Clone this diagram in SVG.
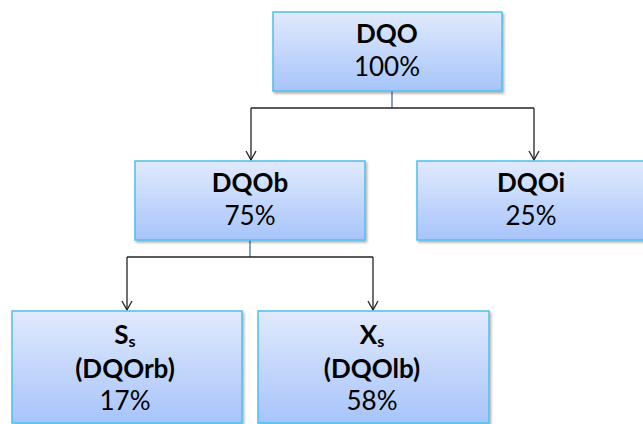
<svg xmlns="http://www.w3.org/2000/svg" width="643" height="424" viewBox="0 0 643 424">
<style>
.box{fill:url(#g);stroke:#4cc0ee;stroke-width:1.5;filter:url(#sh)}
.t{font-family:Lato,"Liberation Sans",sans-serif;font-size:26px;fill:#000;text-anchor:middle}
.b{font-weight:bold}
.c{fill:none;stroke:#222;stroke-width:1.3}
.stub{fill:none;stroke:#4a6c9b;stroke-width:1.3}
</style>
<defs>
<linearGradient id="g" x1="0" y1="0" x2="0" y2="1">
<stop offset="0" stop-color="#e1eafd"/>
<stop offset="1" stop-color="#a7c4fa"/>
</linearGradient>
<filter id="sh" x="-5%" y="-5%" width="112%" height="115%">
<feDropShadow dx="1.5" dy="2" stdDeviation="1.2" flood-color="#000" flood-opacity="0.3"/>
</filter>
<marker id="a" viewBox="0 0 12 12" refX="11" refY="6" markerWidth="12" markerHeight="12" markerUnits="userSpaceOnUse" orient="auto">
<path d="M2,1 L11,6 L2,11" fill="none" stroke="#222" stroke-width="1.3"/>
</marker>
</defs>
<g id="connectors">
<path class="stub" d="M392,91 V108"/>
<path class="c" d="M251,108 H534"/>
<path class="c" d="M251,108 V160" marker-end="url(#a)"/>
<path class="c" d="M534,108 V160" marker-end="url(#a)"/>
<path class="stub" d="M250,240 V257"/>
<path class="c" d="M127,257 H373"/>
<path class="c" d="M127,257 V310" marker-end="url(#a)"/>
<path class="c" d="M373,257 V310" marker-end="url(#a)"/>
</g>
<g id="dqo">
<rect class="box" x="273" y="12" width="229" height="79"/>
<text class="t b" x="387" y="43">DQO</text>
<text class="t" x="387" y="76">100%</text>
</g>
<g id="dqob">
<rect class="box" x="135" y="161" width="230" height="79"/>
<text class="t b" x="250" y="192">DQOb</text>
<text class="t" x="250" y="225">75%</text>
</g>
<g id="dqoi">
<rect class="box" x="417" y="161" width="232" height="79"/>
<text class="t b" x="531" y="192">DQOi</text>
<text class="t" x="531" y="225">25%</text>
</g>
<g id="ss">
<rect class="box" x="12" y="311" width="230" height="112"/>
<text class="t b" x="125" y="344">S<tspan font-size="16" dy="3">s</tspan></text>
<text class="t b" x="125" y="378">(DQOrb)</text>
<text class="t" x="125" y="410">17%</text>
</g>
<g id="xs">
<rect class="box" x="258" y="311" width="231" height="112"/>
<text class="t b" x="372" y="344">X<tspan font-size="16" dy="3">s</tspan></text>
<text class="t b" x="372" y="378">(DQOlb)</text>
<text class="t" x="372" y="410">58%</text>
</g>
</svg>
